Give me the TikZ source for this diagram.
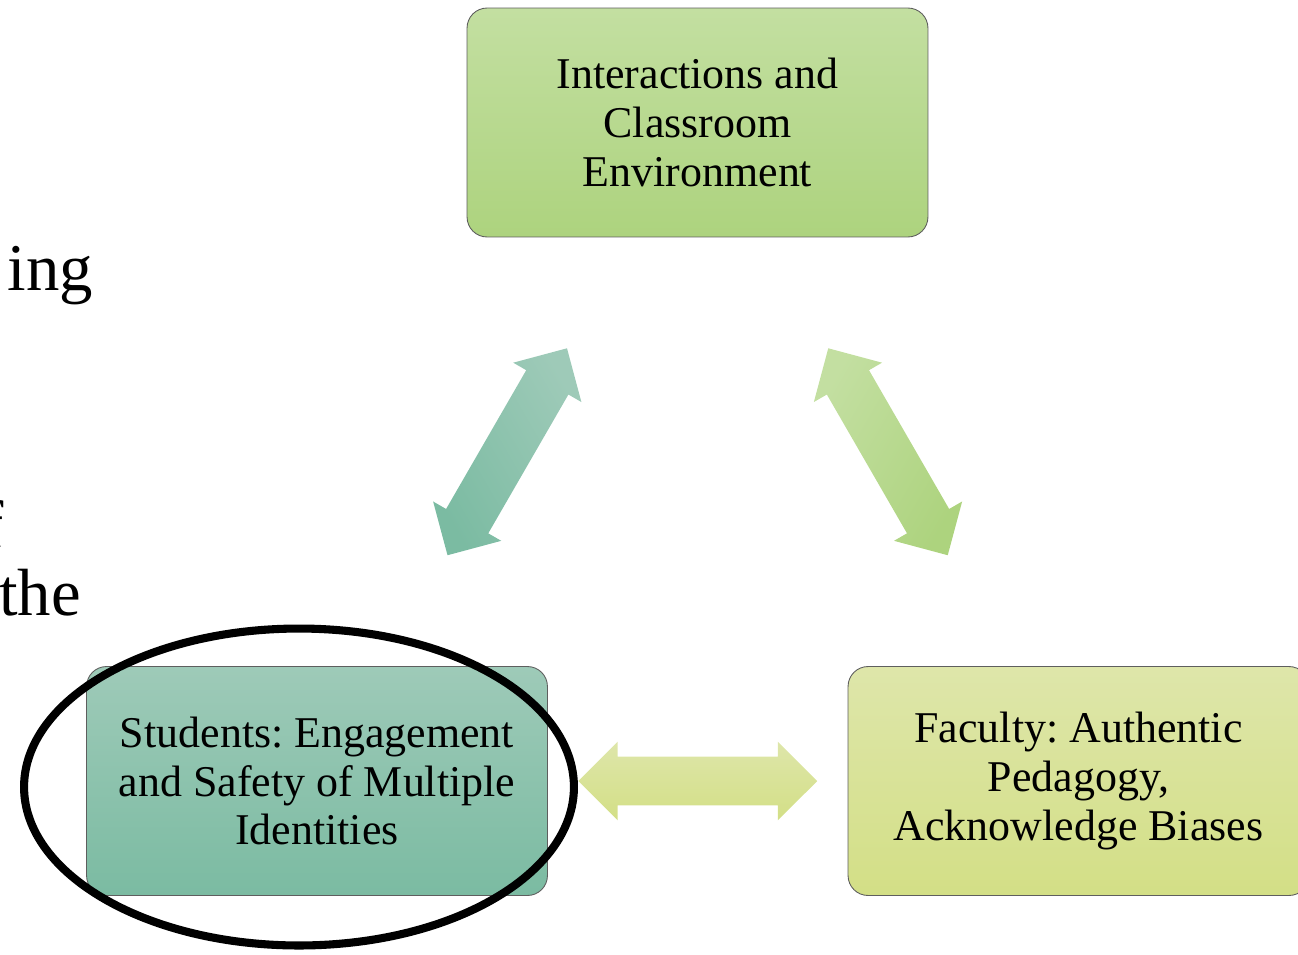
\documentclass[tikz,border=0pt]{standalone}
\usepackage{fontspec}
\setmainfont{Liberation Serif}
\usetikzlibrary{shapes.geometric, shapes.arrows, calc}
\frenchspacing

\definecolor{tealtop}{HTML}{9ECAB8}
\definecolor{tealbot}{HTML}{7BBBA2}
\definecolor{greentop}{HTML}{C3DFA1}
\definecolor{greenbot}{HTML}{ADD37E}
\definecolor{limetop}{HTML}{DEE6AA}
\definecolor{limebot}{HTML}{D3DF86}
\definecolor{boxline}{HTML}{5E5E5E}

\begin{document}
\begin{tikzpicture}[x=0.02cm, y=-0.02cm,
  box/.style={draw=boxline, line width=0.5pt, rounded corners=0.4cm, align=center,
              font=\fontsize{25}{27.8}\selectfont, inner sep=0pt,
              minimum width=9.22cm, minimum height=4.58cm},
  envbox/.style={box, top color=greentop, bottom color=greenbot},
  studbox/.style={box, top color=tealtop, bottom color=tealbot},
  facbox/.style={box, top color=limetop, bottom color=limebot},
  link/.style={shape=double arrow, inner sep=0pt, text height=0.96cm, text depth=0pt,
               minimum width=1.56cm, minimum height=4.78cm,
               double arrow head extend=0.3cm},
  frag/.style={anchor=base east, font=\fontsize{38}{44}\selectfont}]

  \useasboundingbox (0,0) rectangle (1298,954);
  \clip (0,0) rectangle (1298,954);

  % cut-off words of the slide text on the left
  \node[frag] (w1) at (99,290) {ing};
  \node[frag] (w2) at (10,547) {f};
  \node[frag] (w3) at (87,615) {the};

  % the three boxes
  \node[envbox]  (env)  at (697.5,122.5) {Interactions and\\Classroom\\Environment};
  \node[studbox] (stud) at (317,781) {Students: Engagement\\and Safety of Multiple\\Identities};
  \node[facbox]  (fac)  at (1078.5,781) {Faculty: Authentic\\Pedagogy,\\Acknowledge Biases};

  % two-way arrows between the boxes
  \node[link, rotate=60, top color=tealtop, bottom color=tealbot, shading angle=-60]
    (a1) at ($(stud)!0.5!(env)$) {};
  \node[link, rotate=-60, top color=greentop, bottom color=greenbot, shading angle=60]
    (a2) at ($(env)!0.5!(fac)$) {};
  \node[link, top color=limetop, bottom color=limebot]
    (a3) at ($(stud)!0.5!(fac)$) {};

  % highlight round the students box
  \node[draw, ellipse, line width=4.6pt, inner sep=0pt, minimum width=11cm,
        minimum height=6.34cm] (ring) at ($(stud)+(-18,6)$) {};
\end{tikzpicture}
\end{document}
